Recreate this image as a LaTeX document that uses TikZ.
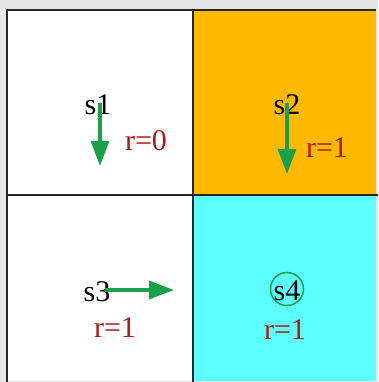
\documentclass[tikz,border=0pt]{standalone}
\usepackage{fontspec}
\setmainfont{Liberation Serif}
\usetikzlibrary{arrows.meta}
\definecolor{orangecell}{HTML}{FFB900}
\definecolor{cyancell}{HTML}{5CFFFF}
\definecolor{arrgreen}{HTML}{1AA04A}
\definecolor{rewred}{HTML}{B01818}
\definecolor{margin}{HTML}{E6E6E6}
\tikzset{
  state/.style={font=\fontsize{30}{32}\selectfont, text=black, inner sep=0pt},
  reward/.style={font=\fontsize{30}{32}\selectfont, text=rewred, inner sep=0pt},
  move/.style={draw=arrgreen, line width=3.2pt, -{Triangle[length=25pt,width=18pt]}},
  cellline/.style={draw=black!85, line width=2pt}
}
\begin{document}
\begin{tikzpicture}[x=1pt,y=-1pt]
\useasboundingbox (0,0) rectangle (378,382);
\fill[margin] (0,0) rectangle (378,382);
\fill[white] (7,10) rectangle (193,381);
\fill[orangecell] (193,10) rectangle (376,195);
\fill[cyancell] (193,195) rectangle (376,381);
\draw[cellline] (376,10) -- (7,10) -- (7,382);
\draw[cellline] (193,10) -- (193,382);
\draw[cellline] (7,195) -- (378,195);
% states
\node[state] (s1) at (98,105) {s1};
\node[state] (s2) at (287,105) {s2};
\node[state] (s3) at (97,292) {s3};
\node[state] (s4) at (287,291) {s4};
\draw[arrgreen, line width=1.5pt] (287,289) circle (16.5);
% rewards
\node[reward] (r1) at (146,141) {r=0};
\node[reward] (r2) at (327,148) {r=1};
\node[reward] (r3) at (115,328) {r=1};
\node[reward] (r4) at (285,330) {r=1};
% actions
\coordinate (a1) at (100,166);
\coordinate (a2) at (287,174);
\coordinate (a3) at (174,290);
\draw[move] (100,103) -- (a1);
\draw[move] (287,103) -- (a2);
\draw[move] (105,290) -- (a3);
\end{tikzpicture}
\end{document}
